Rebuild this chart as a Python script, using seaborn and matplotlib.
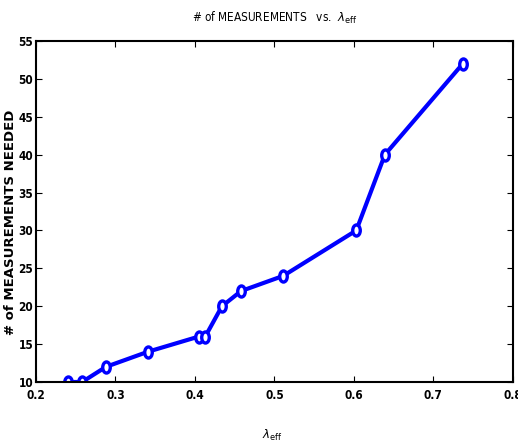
import matplotlib
matplotlib.use("Agg")
import matplotlib.pyplot as plt
import seaborn as sns
import pandas as pd
import numpy as np
from matplotlib.font_manager import FontProperties
from matplotlib.path import Path

lam_eff = [0.240, 0.258, 0.288, 0.341, 0.405, 0.413, 0.434, 0.458, 0.511, 0.603, 0.639, 0.737]
measurements = [10, 10, 12, 14, 16, 16, 20, 22, 24, 30, 40, 52]
xticks = [0.2, 0.3, 0.4, 0.5, 0.6, 0.7, 0.8]
yticks = [10, 15, 20, 25, 30, 35, 40, 45, 50, 55]

sns.set_style("white")
plt.rcParams['font.family'] = ['DejaVu Sans']
plt.rcParams['mathtext.fontset'] = 'dejavusans'
plt.rcParams['text.color'] = 'black'

tickfp = FontProperties(family="DejaVu Sans", stretch="condensed", weight="bold", size=8.5)
titlefp = FontProperties(family="DejaVu Sans", stretch="condensed", size=8.5)

# vertically stretched ellipse marker
circ = Path.unit_circle()
ell = Path(circ.vertices * np.array([0.68, 1.0]), circ.codes)

df = pd.DataFrame({"lam": lam_eff, "m": measurements})

fig = plt.figure(figsize=(5.18, 4.43), dpi=100)
ax = fig.add_axes([0.0695, 0.1377, 0.9205, 0.7697])
sns.lineplot(data=df, x="lam", y="m", ax=ax, color="#0000ff", linewidth=3,
             marker=ell, markersize=8, markerfacecolor="white",
             markeredgecolor="#0000ff", markeredgewidth=2.4, sort=False)

ax.set_xlim(0.2, 0.8)
ax.set_ylim(10, 55)
ax.set_xticks(xticks)
ax.set_yticks(yticks)
ax.set_xticklabels([f"{t:g}" for t in xticks], fontproperties=tickfp)
ax.set_yticklabels([str(t) for t in yticks], fontproperties=tickfp)
ax.tick_params(direction="in", length=4, width=0.8, top=True, right=True,
               bottom=True, left=True, colors="black", labelcolor="black")
ax.tick_params(axis="x", pad=5)
ax.tick_params(axis="y", pad=2)
for s in ax.spines.values():
    s.set_visible(True)
    s.set_color("black")
    s.set_linewidth(1.5)

ax.set_xlabel(r"$\lambda_{\rm eff}$", fontproperties=titlefp, color="black")
ax.xaxis.set_label_coords((272 - 36) / 477, -(428 - 382) / 341)
ax.set_ylabel("# of MEASUREMENTS NEEDED", fontsize=9.5, fontweight="bold",
              family="DejaVu Sans", color="black")
ax.yaxis.set_label_coords(-(36 - 17) / 477, (382 - 222) / 341)
ax.set_title(r"# of MEASUREMENTS   vs.  $\lambda_{\rm eff}$", fontproperties=titlefp,
             pad=14, color="black")

fig.savefig("out.png", dpi=100)
